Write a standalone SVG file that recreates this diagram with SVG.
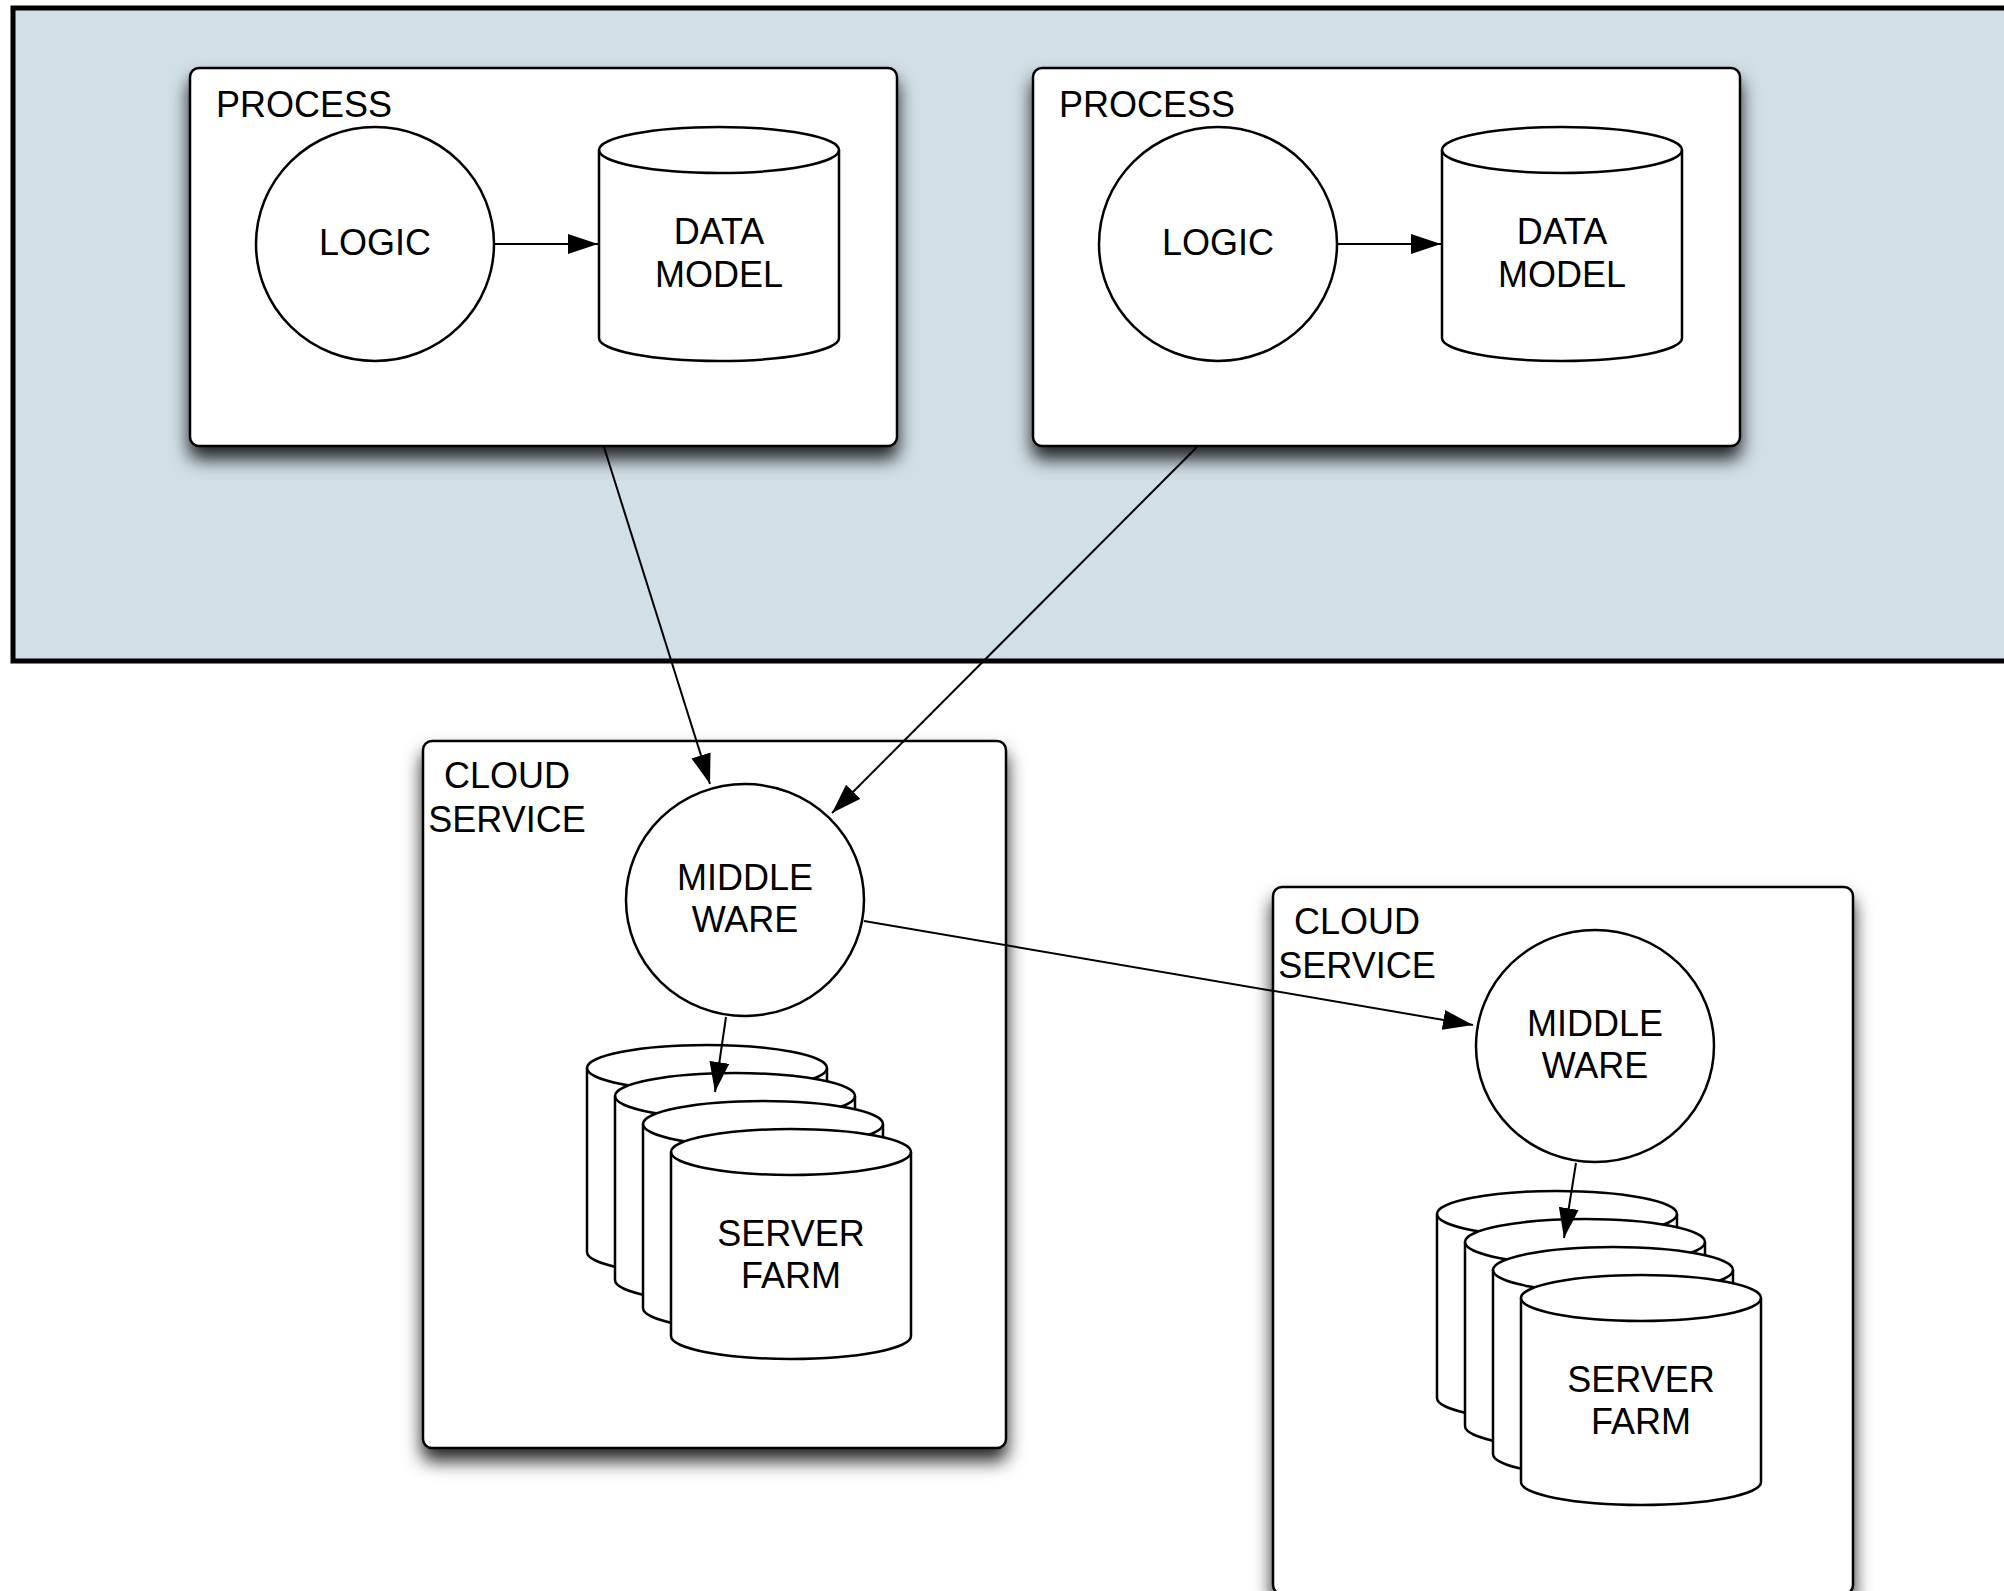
<svg xmlns="http://www.w3.org/2000/svg" xmlns:xlink="http://www.w3.org/1999/xlink" width="2004" height="1591" viewBox="0 0 2004 1591">
<style>
.box{fill:#fff;stroke:#000;stroke-width:2.5;filter:url(#sh)}
.shape{fill:#fff;stroke:#000;stroke-width:2.5}
.rim{fill:none;stroke:#000;stroke-width:2.5}
.t{font-family:"Liberation Sans",Arial,Helvetica,sans-serif;font-size:36px;fill:#000}
.c{text-anchor:middle}
.edge{fill:none;stroke:#000;stroke-width:2;marker-end:url(#ah)}
</style>
<defs>
<filter id="sh" x="-15%" y="-15%" width="130%" height="140%">
<feDropShadow dx="0" dy="12" stdDeviation="9" flood-color="#000" flood-opacity="0.85"/>
</filter>
<marker id="ah" markerUnits="userSpaceOnUse" markerWidth="30" markerHeight="20" refX="30" refY="10" orient="auto">
<path d="M0,0 L30,10 L0,20 Z" fill="#000"/>
</marker>
<g id="cyl">
<path class="shape" d="M0,23 A120,23 0 0 1 240,23 V207 A120,23 0 0 1 0,207 Z"/>
<path class="rim" d="M0,23 A120,23 0 0 0 240,23"/>
</g>
</defs>

<g id="container">
<rect x="13" y="8" width="2010" height="653" fill="#d1dfe6" stroke="#000" stroke-width="5"/>
</g>

<g id="process1">
<rect class="box" x="190" y="68" width="707" height="378" rx="9"/>
<text class="t" x="216" y="117">PROCESS</text>
</g>
<g id="logic1">
<ellipse class="shape" cx="375" cy="244" rx="119" ry="117"/>
<text class="t c" x="375" y="255">LOGIC</text>
</g>
<g id="datamodel1">
<path class="shape" d="M599,150 A120,23 0 0 1 839,150 V338 A120,23 0 0 1 599,338 Z"/>
<path class="rim" d="M599,150 A120,23 0 0 0 839,150"/>
<text class="t c" x="719" y="244">DATA</text>
<text class="t c" x="719" y="287">MODEL</text>
</g>

<g id="process2">
<rect class="box" x="1033" y="68" width="707" height="378" rx="9"/>
<text class="t" x="1059" y="117">PROCESS</text>
</g>
<g id="logic2">
<ellipse class="shape" cx="1218" cy="244" rx="119" ry="117"/>
<text class="t c" x="1218" y="255">LOGIC</text>
</g>
<g id="datamodel2">
<path class="shape" d="M1442,150 A120,23 0 0 1 1682,150 V338 A120,23 0 0 1 1442,338 Z"/>
<path class="rim" d="M1442,150 A120,23 0 0 0 1682,150"/>
<text class="t c" x="1562" y="244">DATA</text>
<text class="t c" x="1562" y="287">MODEL</text>
</g>

<g id="cloud1">
<rect class="box" x="423" y="741" width="583" height="707" rx="9"/>
<text class="t c" x="507" y="788">CLOUD</text>
<text class="t c" x="507" y="832">SERVICE</text>
</g>
<g id="middleware1">
<ellipse class="shape" cx="745" cy="900" rx="119" ry="116"/>
<text class="t c" x="745" y="890">MIDDLE</text>
<text class="t c" x="745" y="932">WARE</text>
</g>
<g id="serverfarm1">
<use xlink:href="#cyl" x="587" y="1045"/>
<use xlink:href="#cyl" x="615" y="1073"/>
<use xlink:href="#cyl" x="643" y="1101"/>
<use xlink:href="#cyl" x="671" y="1129"/>
<text class="t c" x="791" y="1246">SERVER</text>
<text class="t c" x="791" y="1288">FARM</text>
</g>

<g id="cloud2">
<rect class="box" x="1273" y="887" width="580" height="707" rx="9"/>
<text class="t c" x="1357" y="934">CLOUD</text>
<text class="t c" x="1357" y="978">SERVICE</text>
</g>
<g id="middleware2">
<ellipse class="shape" cx="1595" cy="1046" rx="119" ry="116"/>
<text class="t c" x="1595" y="1036">MIDDLE</text>
<text class="t c" x="1595" y="1078">WARE</text>
</g>
<g id="serverfarm2">
<use xlink:href="#cyl" x="1437" y="1191"/>
<use xlink:href="#cyl" x="1465" y="1219"/>
<use xlink:href="#cyl" x="1493" y="1247"/>
<use xlink:href="#cyl" x="1521" y="1275"/>
<text class="t c" x="1641" y="1392">SERVER</text>
<text class="t c" x="1641" y="1434">FARM</text>
</g>

<g id="connectors">
<line class="edge" x1="494" y1="244" x2="598" y2="244"/>
<line class="edge" x1="1337" y1="244" x2="1441" y2="244"/>
<line class="edge" x1="604" y1="447" x2="710" y2="784"/>
<line class="edge" x1="1197" y1="447" x2="832" y2="813"/>
<line class="edge" x1="864" y1="921" x2="1473" y2="1025"/>
<line class="edge" x1="726" y1="1017" x2="715" y2="1092"/>
<line class="edge" x1="1576" y1="1163" x2="1564" y2="1238"/>
</g>
</svg>
